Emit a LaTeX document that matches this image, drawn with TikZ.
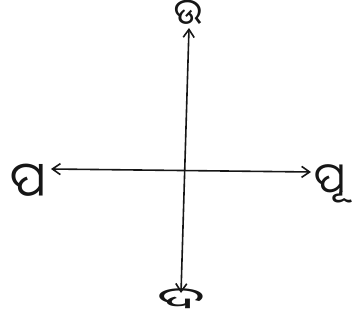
\documentclass[tikz,border=0pt]{standalone}
\usepackage{fontspec}
\usepackage{graphicx}
\usetikzlibrary{arrows.meta}
\newfontfamily\oriyafont[Script=Oriya]{Noto Sans Oriya UI}
\definecolor{ink}{HTML}{161616}
\tikzset{
  barb/.tip={Straight Barb[length=8pt,width=11pt,line width=1.6pt]},
  axis/.style={draw=ink, line width=1.6pt, line cap=round, barb-barb},
  dirlabel/.style={text=ink, inner sep=0pt}
}
\begin{document}
\begin{tikzpicture}[x=1pt,y=-1pt]
\useasboundingbox[fill=white] (0,0) rectangle (355,328);
% axis end points
\coordinate (n) at (189,28);
\coordinate (s) at (181,293);
\coordinate (w) at (51,169);
\coordinate (e) at (311,172);
% labels
\node[dirlabel, font=\oriyafont\fontsize{36}{38}\selectfont] (north) at (188,14) {ଉ};
\node[dirlabel, font=\oriyafont\fontsize{30}{32}\selectfont] (south) at (181,300) {\scalebox{2.1}[1]{ଦ}};
\node[dirlabel, font=\oriyafont\fontsize{42}{44}\selectfont] (east) at (330,184) {ପୂ};
\node[dirlabel, font=\oriyafont\fontsize{48}{50}\selectfont] (west) at (28,182) {ପ};
% axes
\draw[axis] (s) -- (n);
\draw[axis] (w) -- (e);
\end{tikzpicture}
\end{document}
